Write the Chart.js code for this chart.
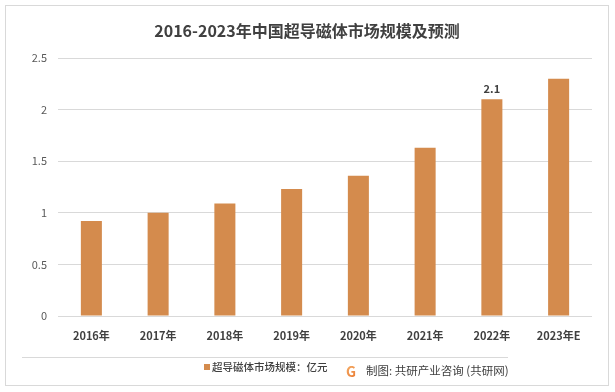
<!DOCTYPE html>
<html>
<head>
<meta charset="utf-8">
<script src="https://cdn.jsdelivr.net/npm/chart.js@4.4.1/dist/chart.umd.min.js"></script>
<style>
    html, body { margin: 0; padding: 0; background: #FFFFFF; }
    #wrap { width: 615px; height: 392px; position: relative; }
</style>
</head>
<body>
<div id="wrap"><canvas id="marketChart" width="615" height="392"></canvas></div>
<script>
// 데이터
const years = ['2016年', '2017年', '2018年', '2019年', '2020年', '2021年', '2022年', '2023年E'];
const marketSize = [0.92, 1.0, 1.09, 1.23, 1.36, 1.63, 2.1, 2.3];
const labelledIndex = [6];

const TITLE = '2016-2023年中国超导磁体市场规模及预测';
const SERIES_NAME = '超导磁体市场规模：亿元';
const SOURCE = '制图: 共研产业咨询 (共研网)';
const FONT = '"Noto Sans CJK SC", "Noto Sans", sans-serif';
const BAR_COLOR = '#D48B4D';

// 테두리, 제목, 범례, 출처
const decorPlugin = {
    id: 'decor',
    beforeDraw(chart) {
        const ctx = chart.ctx;
        ctx.save();
        ctx.fillStyle = '#FFFFFF';
        ctx.fillRect(0, 0, chart.width, chart.height);
        ctx.strokeStyle = '#D9D9D9';
        ctx.lineWidth = 1;
        ctx.strokeRect(5.5, 5.5, 603, 380);
        ctx.beginPath();
        ctx.moveTo(22, 357.5);
        ctx.lineTo(508, 357.5);
        ctx.stroke();
        ctx.restore();
    },
    afterDraw(chart) {
        const ctx = chart.ctx;
        ctx.save();
        // 제목
        ctx.fillStyle = '#404040';
        ctx.font = 'bold 16px ' + FONT;
        ctx.textAlign = 'center';
        ctx.textBaseline = 'middle';
        ctx.fillText(TITLE, 307, 31);

        // 데이터 라벨
        const meta = chart.getDatasetMeta(0);
        ctx.font = 'bold 11px ' + FONT;
        ctx.textBaseline = 'bottom';
        labelledIndex.forEach(i => {
            const bar = meta.data[i];
            ctx.fillText(String(marketSize[i]), bar.x, bar.y - 5);
        });

        // 범례
        ctx.fillStyle = BAR_COLOR;
        ctx.fillRect(204, 364, 6, 6);
        ctx.fillStyle = '#404040';
        ctx.font = '500 10.5px ' + FONT;
        ctx.textAlign = 'left';
        ctx.textBaseline = 'middle';
        ctx.fillText(SERIES_NAME, 212, 367);

        // 출처
        const grad = ctx.createLinearGradient(346, 364, 358, 378);
        grad.addColorStop(0, '#F6B26B');
        grad.addColorStop(1, '#E8742C');
        ctx.fillStyle = grad;
        ctx.font = 'bold 14px ' + FONT;
        ctx.fillText('G', 346, 372);
        ctx.fillStyle = '#404040';
        ctx.font = '11.5px ' + FONT;
        ctx.fillText(SOURCE, 366, 371);
        ctx.restore();
    }
};

const chart = new Chart(document.getElementById('marketChart'), {
    type: 'bar',
    data: {
        labels: years,
        datasets: [{
            label: SERIES_NAME,
            data: marketSize,
            backgroundColor: BAR_COLOR,
            borderWidth: 0,
            categoryPercentage: 1,
            barPercentage: 0.315
        }]
    },
    options: {
        responsive: false,
        animation: false,
        devicePixelRatio: 1,
        layout: {
            padding: { top: 58, right: 23, bottom: 46, left: 0 }
        },
        plugins: {
            legend: { display: false },
            title: { display: false },
            tooltip: { enabled: false }
        },
        scales: {
            x: {
                grid: { display: false },
                border: { display: false },
                ticks: {
                    color: '#404040',
                    font: { family: FONT, size: 11, weight: 'bold' },
                    padding: 5,
                    maxRotation: 0
                },
                afterFit(scale) { scale.height = 30; }
            },
            y: {
                min: 0,
                max: 2.5,
                grid: { color: '#D9D9D9', lineWidth: 1, drawTicks: false },
                border: { display: false },
                ticks: {
                    stepSize: 0.5,
                    color: '#595959',
                    font: { family: FONT, size: 11 },
                    padding: 11,
                    callback: value => String(Math.round(value * 10) / 10)
                },
                afterFit(scale) { scale.width = 58; }
            }
        }
    },
    plugins: [decorPlugin]
});
</script>
</body>
</html>
